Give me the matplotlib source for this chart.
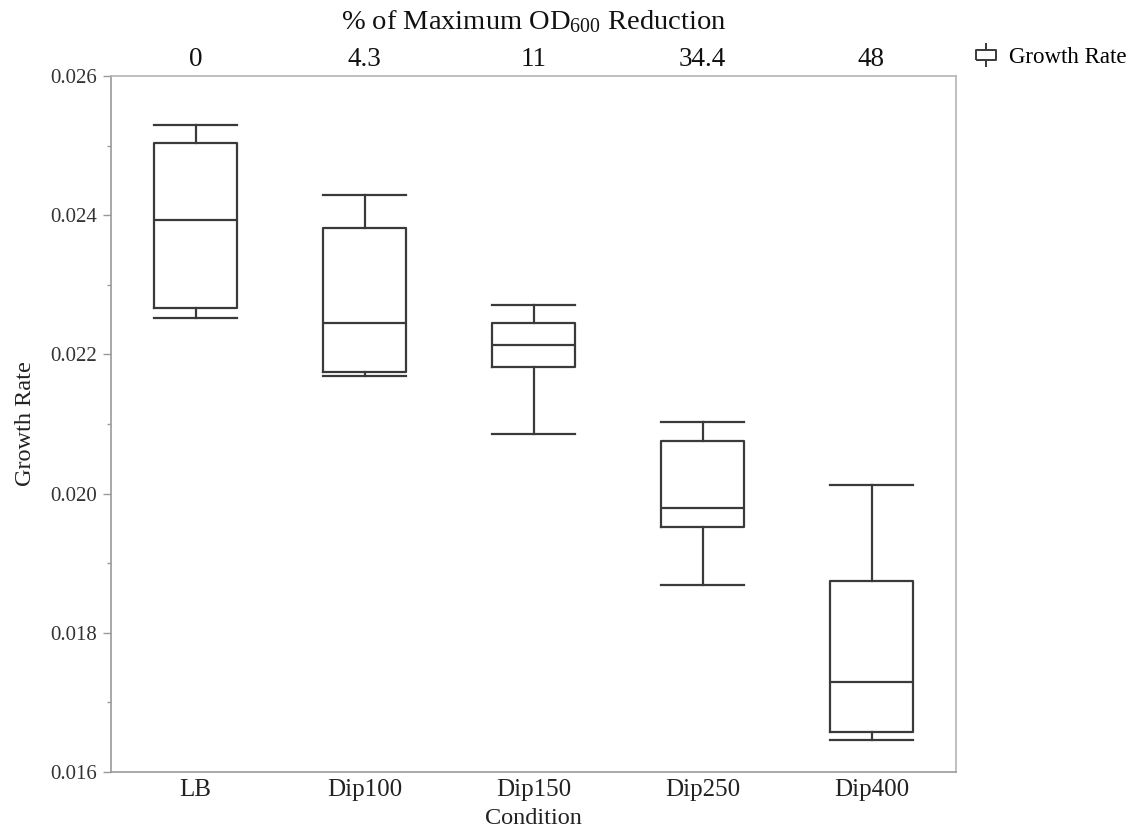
import numpy as np
import matplotlib.pyplot as plt
from matplotlib.lines import Line2D
from matplotlib.legend_handler import HandlerTuple

plt.rcParams['font.family'] = ['Liberation Serif', 'DejaVu Serif']
plt.rcParams['mathtext.fontset'] = 'custom'
plt.rcParams['mathtext.rm'] = 'Liberation Serif'
plt.rcParams['mathtext.it'] = 'Liberation Serif:italic'

# box plot summary values
conditions = ['LB', 'Dip100', 'Dip150', 'Dip250', 'Dip400']
od_reduction = ['0', '4.3', '11', '34.4', '48']
whisker_low = [0.02252, 0.02169, 0.02086, 0.01869, 0.01646]
q1 = [0.02267, 0.02174, 0.02182, 0.01952, 0.01657]
median = [0.02393, 0.02245, 0.02213, 0.01979, 0.01729]
q3 = [0.02504, 0.02382, 0.02245, 0.02076, 0.01875]
whisker_high = [0.02530, 0.02429, 0.02271, 0.02103, 0.02012]

stats = []
for i in range(len(conditions)):
    stats.append(dict(label=conditions[i], whislo=whisker_low[i], q1=q1[i],
                      med=median[i], q3=q3[i], whishi=whisker_high[i]))

line_col = '#3a3a3a'
frame_col = '#9a9a9a'

fig = plt.figure(figsize=(11.44, 8.31), dpi=100)
ax = fig.add_axes([111 / 1144, 1 - 772 / 831, (956 - 111) / 1144, (772 - 76) / 831])

props = dict(color=line_col, linewidth=1.6)
ax.bxp(stats, positions=range(len(conditions)), widths=0.49, capwidths=0.49,
       showfliers=False, boxprops=props, whiskerprops=props, capprops=props,
       medianprops=props)

ax.set_xlim(-0.5, len(conditions) - 0.5)
ax.set_ylim(0.016, 0.026)
ax.set_yticks(np.arange(0.016, 0.0261, 0.002))
ax.set_yticks(np.arange(0.017, 0.026, 0.002), minor=True)
ax.set_yticklabels(['%.3f' % v for v in np.arange(0.016, 0.0261, 0.002)])
ax.set_xticks(range(len(conditions)))
ax.set_xticklabels(conditions)

ax.tick_params(axis='y', which='major', direction='out', length=6, width=1,
               color=frame_col, labelsize=15, pad=4, labelcolor='#333333')
ax.tick_params(axis='y', which='minor', direction='out', length=3, width=1,
               color=frame_col)
ax.tick_params(axis='x', length=0, labelsize=18, pad=5, labelcolor='#222222')

for s in ax.spines.values():
    s.set_color('#b5b5b5')
    s.set_linewidth(1.2)
ax.spines['left'].set_color(frame_col)
ax.spines['bottom'].set_color(frame_col)

ax.set_xlabel('Condition', fontsize=17.5, labelpad=5, color='#222222')
ax.set_ylabel('Growth Rate', fontsize=17.5, labelpad=10, color='#222222')

top = ax.secondary_xaxis('top')
top.set_xticks(range(len(conditions)), labels=od_reduction)
top.tick_params(length=0, labelsize=19.5, pad=3, labelcolor='#111111')
top.set_xlabel('% of Maximum OD$_{600}$ Reduction', fontsize=20.5, labelpad=13,
               color='#111111')
top.spines['top'].set_visible(False)

stem = Line2D([], [], linestyle='none', marker='|', markersize=17,
              markeredgecolor=line_col, markeredgewidth=1.4)
box = Line2D([], [], linestyle='none',
             marker=[(-1, -0.55), (1, -0.55), (1, 0.55), (-1, 0.55), (-1, -0.55)],
             markersize=14, markerfacecolor='white', markeredgecolor=line_col,
             markeredgewidth=1.4)
fig.legend([(stem, box)], ['Growth Rate'], loc='center left',
           bbox_to_anchor=(954 / 1144, 1 - 57 / 831), frameon=False,
           fontsize=16.5, handlelength=1.0, handletextpad=0.5,
           handler_map={tuple: HandlerTuple(ndivide=1)})

fig.savefig('out.png', dpi=100)
